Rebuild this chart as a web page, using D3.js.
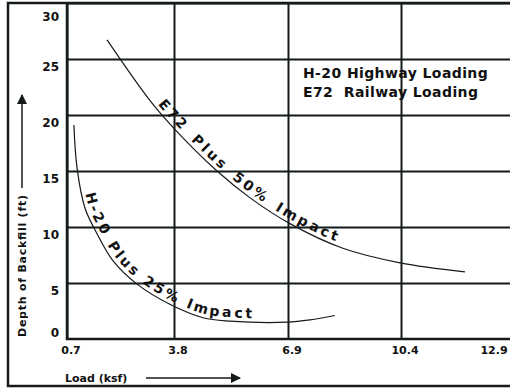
<!DOCTYPE html>
<html>
<head>
<meta charset="utf-8">
<script src="https://cdn.jsdelivr.net/npm/d3@7"></script>
<style>
  html, body { margin: 0; padding: 0; background: #fff; }
  svg text { font-family: "DejaVu Sans", sans-serif; font-weight: bold; fill: #111; }
</style>
</head>
<body>
<div id="chart"></div>
<script>
// tick values (x grid is evenly spaced on the page, values are not)
const xTicks = [0.7, 3.8, 6.9, 10.4, 12.9];
const yTicks = [0, 5, 10, 15, 20, 25, 30];

// E72 Plus 50% Impact: [load, depth]
const e72Load  = [1.86, 3.10, 3.77, 4.97, 5.87, 6.96, 8.6, 10.37, 11.84];
const e72Depth = [26.7, 21.3, 18.9, 15.0, 12.6, 10.3, 8.1, 6.8, 6.0];

// H20 Plus 25% Impact
const h20Load  = [0.90, 0.99, 1.22, 1.57, 2.03, 2.73, 3.68, 4.59, 5.32, 6.87, 7.58, 8.35];
const h20Depth = [19.1, 15.3, 11.7, 9.4, 7.0, 4.9, 3.1, 1.9, 1.6, 1.5, 1.7, 2.1];

const legendLines = ['H-20 Highway Loading', 'E72  Railway Loading'];

const width = 510, height = 389;
const ink = '#151a1a';

const svg = d3.select('#chart').append('svg')
  .attr('width', width)
  .attr('height', height);

const x = d3.scaleLinear()
  .domain(xTicks)
  .range([67, 174, 288, 401, 512]);

const y = d3.scaleLinear()
  .domain([0, 30])
  .range([339, 3]);

// outer frame
svg.append('rect')
  .attr('x', 8).attr('y', 3)
  .attr('width', 520).attr('height', 383)
  .attr('fill', 'none')
  .attr('stroke', ink)
  .attr('stroke-width', 2.5);

// grid
svg.append('g')
  .attr('transform', `translate(0,${y(0)})`)
  .call(d3.axisBottom(x).tickValues(xTicks.slice(0, 4)).tickSize(-(y(0) - y(30))).tickFormat(''))
  .call(g => g.select('.domain').remove())
  .call(g => g.selectAll('line').attr('stroke', ink).attr('stroke-width', 2));

svg.append('g')
  .attr('transform', `translate(${x(0.7)},0)`)
  .call(d3.axisLeft(y).tickValues(yTicks.slice(1)).tickSize(-(x(12.9) - x(0.7))).tickFormat(''))
  .call(g => g.select('.domain').remove())
  .call(g => g.selectAll('line').attr('stroke', ink).attr('stroke-width', 2));

// plot border
svg.append('path')
  .attr('d', `M${x(0.7)},${y(30)}V${y(0)}H${x(12.9)}`)
  .attr('fill', 'none')
  .attr('stroke', ink)
  .attr('stroke-width', 2.5);

// tick labels
svg.append('g').selectAll('text')
  .data(xTicks)
  .join('text')
  .attr('x', d => Math.min(x(d) + 4, 494))
  .attr('y', 354)
  .attr('text-anchor', 'middle')
  .attr('font-size', 11)
  .text(d => d);

svg.append('g').selectAll('text')
  .data(yTicks)
  .join('text')
  .attr('x', 59)
  .attr('y', d => Math.min(Math.max(y(d) + 8, 17), 333))
  .attr('dy', '0.35em')
  .attr('text-anchor', 'end')
  .attr('font-size', 12)
  .text(d => d);

// axis titles with arrows
const defs = svg.append('defs');
defs.append('marker')
  .attr('id', 'head')
  .attr('viewBox', '0 0 10 10')
  .attr('refX', 9).attr('refY', 5)
  .attr('markerWidth', 7).attr('markerHeight', 7)
  .attr('orient', 'auto')
  .append('path')
  .attr('d', 'M0,0L10,5L0,10z')
  .attr('fill', ink);

svg.append('text')
  .attr('x', 65).attr('y', 382)
  .attr('font-size', 11)
  .text('Load (ksf)');

svg.append('line')
  .attr('x1', 146).attr('x2', 240)
  .attr('y1', 378).attr('y2', 378)
  .attr('stroke', ink).attr('stroke-width', 1.5)
  .attr('marker-end', 'url(#head)');

svg.append('text')
  .attr('transform', 'translate(26,266) rotate(-90)')
  .attr('text-anchor', 'middle')
  .attr('font-size', 11)
  .attr('textLength', 142)
  .text('Depth of Backfill (ft)');

svg.append('line')
  .attr('x1', 22).attr('x2', 22)
  .attr('y1', 188).attr('y2', 95)
  .attr('stroke', ink).attr('stroke-width', 1.5)
  .attr('marker-end', 'url(#head)');

// curves
const line = d3.line()
  .x(d => x(d[0]))
  .y(d => y(d[1]))
  .curve(d3.curveCatmullRom.alpha(0.5));

const curves = [
  { id: 'e72', label: 'E72 Plus 50% Impact', pts: d3.zip(e72Load, e72Depth), start: 82, len: 232 },
  { id: 'h20', label: 'H-20 Plus 25% Impact', pts: d3.zip(h20Load, h20Depth), start: 70, len: 234 }
];

curves.forEach(c => {
  svg.append('path')
    .attr('id', c.id)
    .attr('d', line(c.pts))
    .attr('fill', 'none')
    .attr('stroke', ink)
    .attr('stroke-width', 1.2);

  // one text per word so labels hug the curve
  const words = c.label.split(' ');
  const nodes = words.map(w => svg.append('text')
    .attr('font-size', 14)
    .attr('letter-spacing', 3)
    .attr('dy', -4)
    .append('textPath')
    .attr('href', '#' + c.id)
    .text(w));
  const widths = nodes.map(n => n.node().getComputedTextLength());
  const gap = Math.max(4, (c.len - d3.sum(widths)) / (words.length - 1));
  let off = c.start;
  nodes.forEach((n, i) => {
    n.attr('startOffset', off);
    off += widths[i] + gap;
  });
});

// legend
svg.append('g').selectAll('text')
  .data(legendLines)
  .join('text')
  .attr('x', 303)
  .attr('y', (d, i) => 78 + i * 19)
  .attr('font-size', 14)
  .attr('letter-spacing', 0.4)
  .style('white-space', 'pre')
  .text(d => d);
</script>
</body>
</html>
